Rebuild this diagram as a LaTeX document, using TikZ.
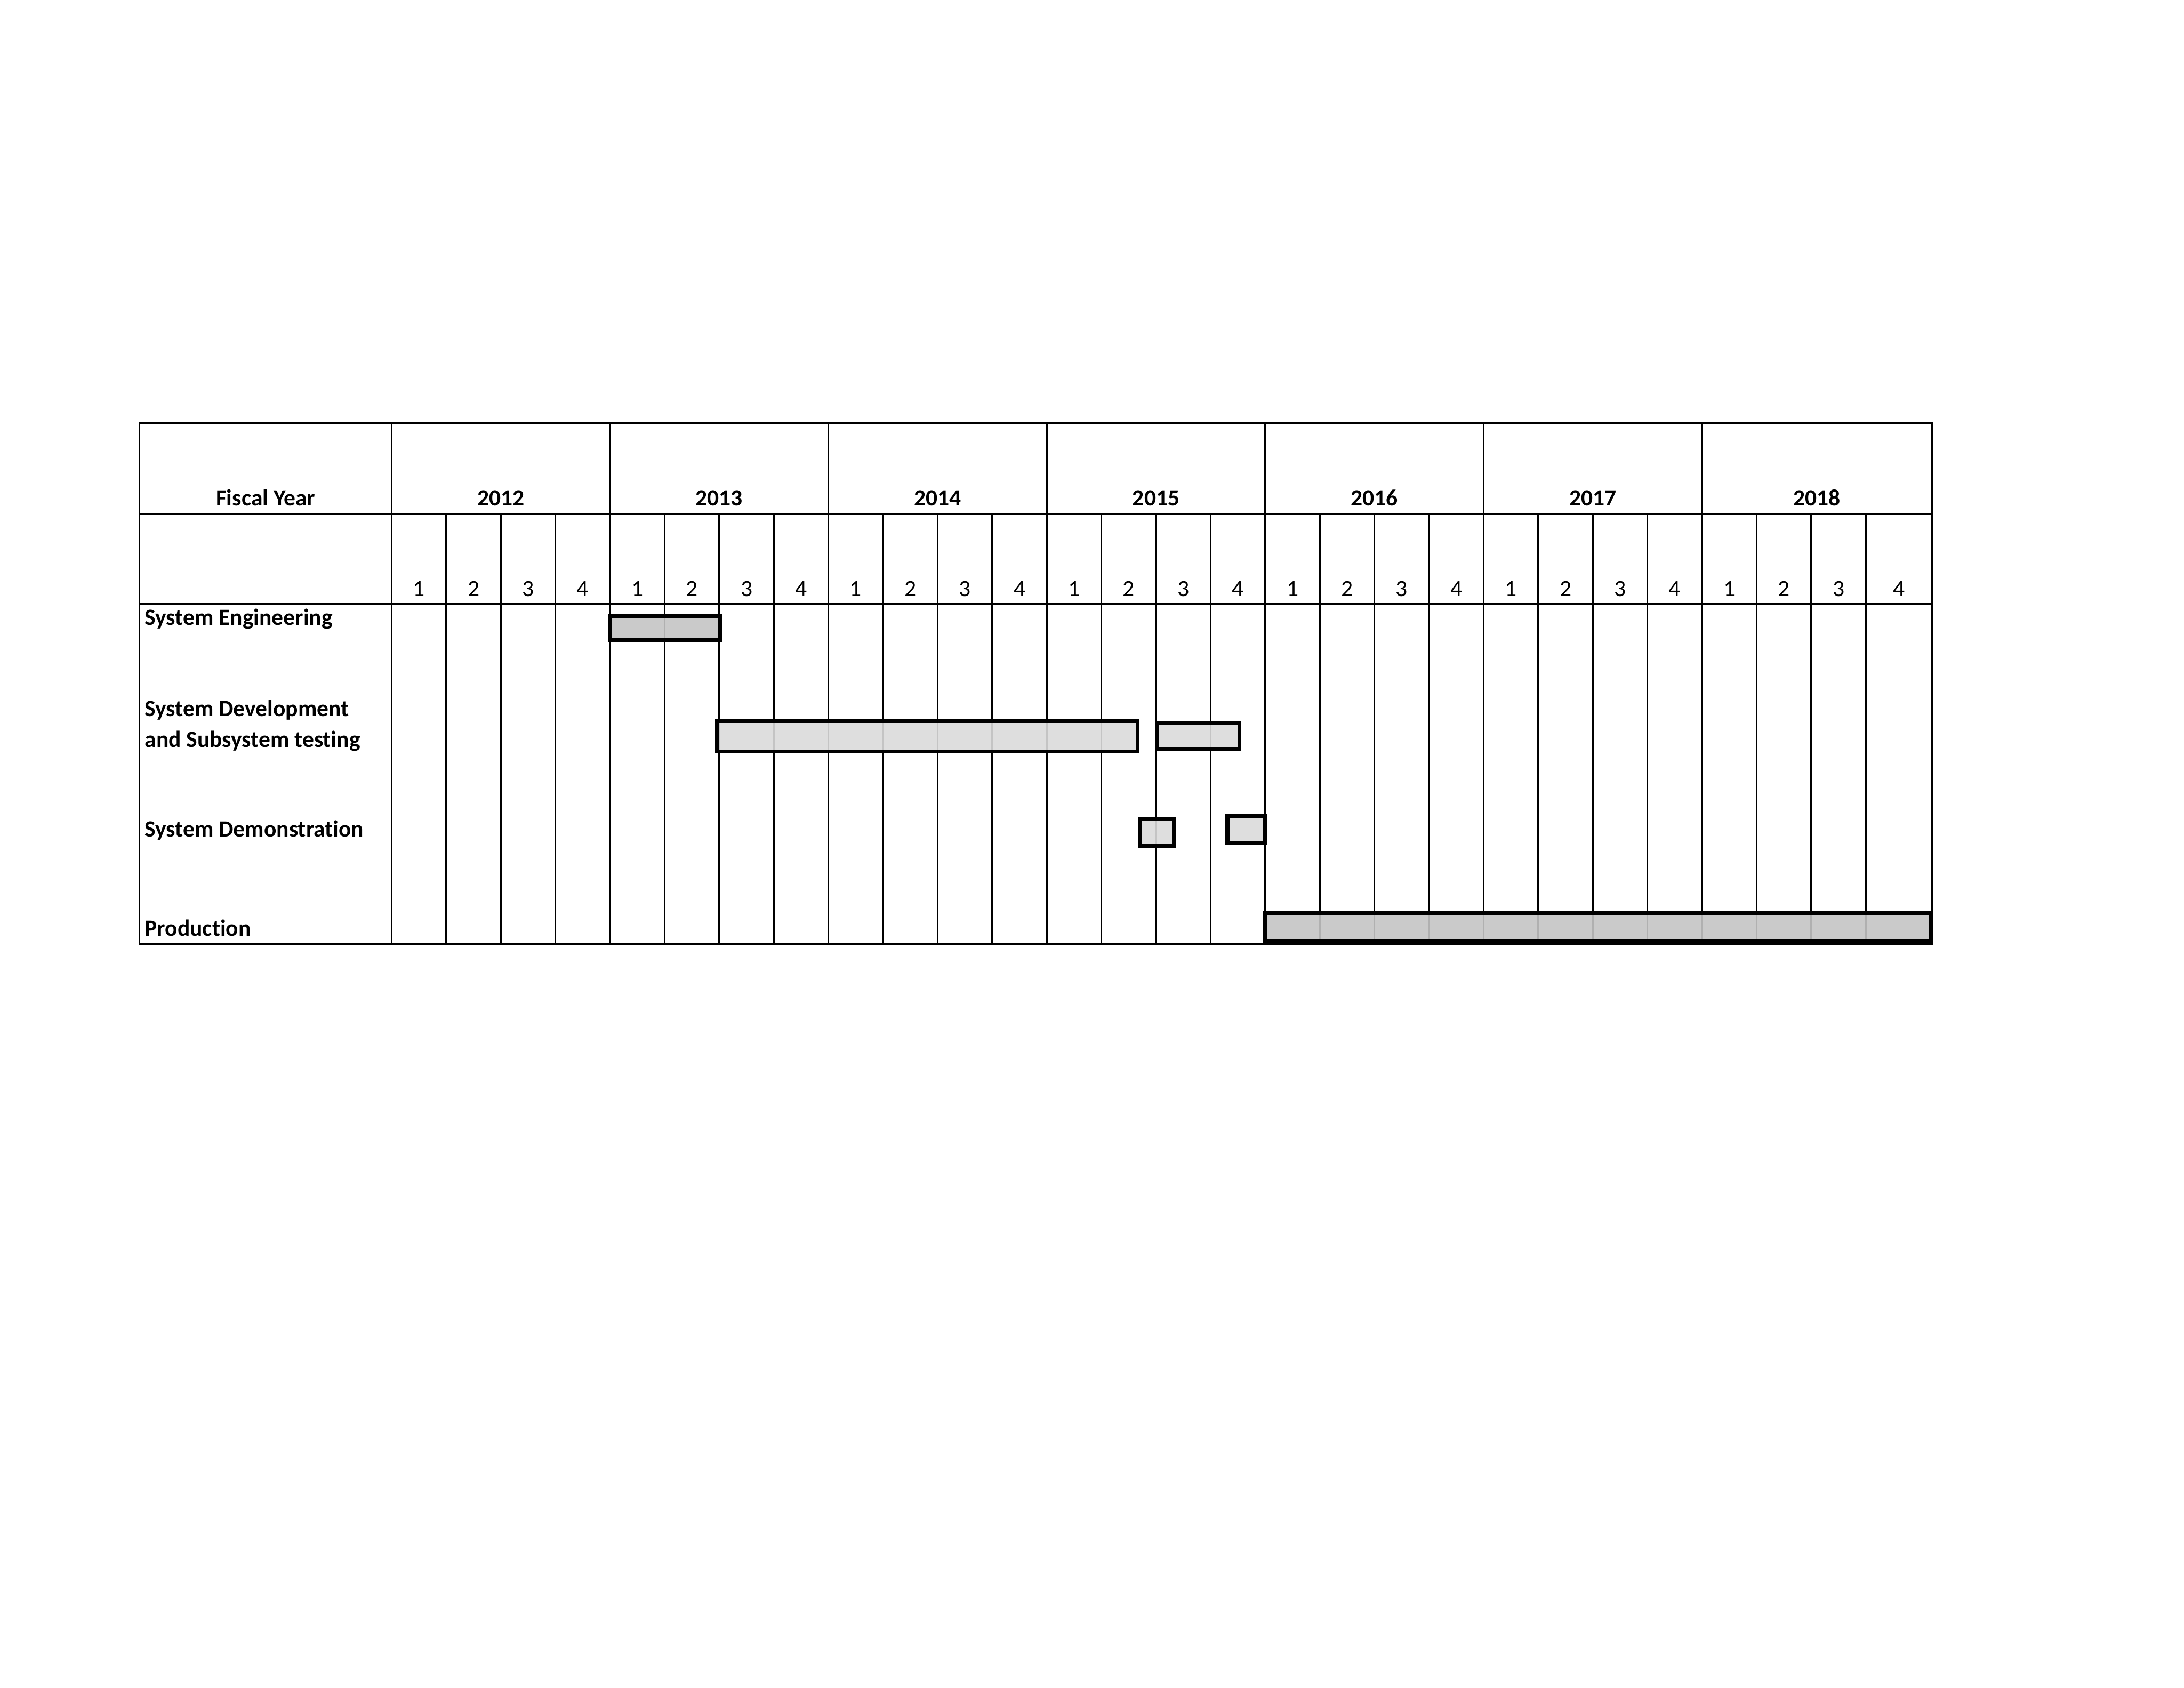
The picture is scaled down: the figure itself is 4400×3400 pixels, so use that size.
\documentclass[tikz,border=0pt]{standalone}
\usepackage{fontspec}
\setmainfont{Carlito}[Ligatures=NoCommon]
\definecolor{barA}{HTML}{C4C4C4}
\definecolor{barB}{HTML}{DADADA}
\begin{document}
\begin{tikzpicture}[x=0.01cm,y=-0.01cm,
  gridline/.style={line width=1pt},
  txt/.style={inner sep=0pt,font=\fontsize{13.3}{16}\selectfont},
  btxt/.style={txt,font=\fontsize{13.3}{16}\selectfont\bfseries},
  bar/.style={draw,line width=2.3pt,fill opacity=0.9}]
\useasboundingbox (0,0) rectangle (4400,3400);
% outer frame and rows
\draw[gridline] (281,853) rectangle (3892,1902);
\draw[gridline] (281,1035) -- (3892,1035);
\draw[gridline] (281,1217) -- (3892,1217);
\draw[gridline] (789,853) -- (789,1902);
% year and quarter lines
\foreach \i in {1,...,27}{
  \pgfmathsetmacro{\xx}{789+110*\i}
  \pgfmathtruncatemacro{\m}{mod(\i,4)}
  \ifnum\m=0
    \draw[gridline] (\xx,853) -- (\xx,1902);
  \else
    \draw[gridline] (\xx,1035) -- (\xx,1902);
  \fi
}
% header texts
\node[btxt,anchor=base] (fy) at (535,1019) {Fiscal Year};
\foreach \k/\yr in {0/2012,1/2013,2/2014,3/2015,4/2016,5/2017}{
  \node[btxt,anchor=base] (y\yr) at ({789+440*\k+220},1019) {\yr};
}
\node[btxt,anchor=base] (y2018) at (3660,1019) {2018};
\foreach \i in {0,...,26}{
  \pgfmathtruncatemacro{\qq}{mod(\i,4)+1}
  \node[txt,anchor=base] (q\i) at ({789+110*\i+55},1202) {\qq};
}
\node[txt,anchor=base] (q27) at (3826,1202) {4};
% row labels
\node[btxt,anchor=base west] (se) at (291,1260) {System Engineering};
\node[btxt,anchor=base west] (dev1) at (291,1443) {System Development};
\node[btxt,anchor=base west] (dev2) at (291,1505) {and Subsystem testing};
\node[btxt,anchor=base west] (demo) at (291,1686) {System Demonstration};
\node[btxt,anchor=base west] (prod) at (291,1886) {Production};
% bars
\draw[bar,fill=barA] (1229,1241) rectangle (1450,1289);
\draw[bar,fill=barB] (1445,1453) rectangle (2292,1514);
\draw[bar,fill=barB] (2331,1457) rectangle (2497,1510);
\draw[bar,fill=barB] (2296,1650) rectangle (2365,1705);
\draw[bar,fill=barB] (2473,1644) rectangle (2548,1699);
\draw[bar,fill=barA] (2549,1839) rectangle (3890,1896);
\end{tikzpicture}
\end{document}
